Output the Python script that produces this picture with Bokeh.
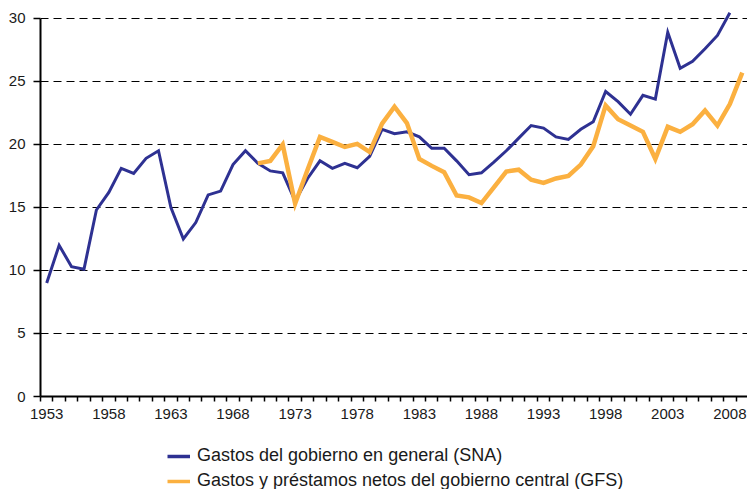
from bokeh.plotting import figure
from bokeh.layouts import column
from bokeh.models import FixedTicker, Legend, LegendItem
from bokeh.embed import file_html
from bokeh.resources import INLINE

# --- data -------------------------------------------------------------
years_sna = list(range(1953, 2009))
sna = [9.0, 12.0, 10.3, 10.1, 14.8, 16.2, 18.1, 17.7, 18.9, 19.5,
       15.0, 12.5, 13.8, 16.0, 16.3, 18.4, 19.5, 18.5, 17.9, 17.75,
       15.5, 17.3, 18.7, 18.1, 18.5, 18.15, 19.05, 21.2, 20.85, 21.0,
       20.6, 19.7, 19.7, 18.7, 17.6, 17.75, 18.6, 19.5, 20.5, 21.5,
       21.3, 20.6, 20.4, 21.2, 21.8, 24.2, 23.4, 22.4, 23.9, 23.6,
       28.9, 26.05, 26.6, 27.6, 28.65, 30.45]

years_gfs = list(range(1970, 2010))
gfs = [18.5, 18.7, 20.0, 15.3, 18.0, 20.6, 20.2, 19.8, 20.05, 19.4,
       21.65, 23.0, 21.7, 18.85, 18.3, 17.8, 15.95, 15.8, 15.35, 16.6,
       17.85, 18.0, 17.2, 16.95, 17.3, 17.5, 18.4, 19.85, 23.1, 22.0,
       21.5, 21.0, 18.85, 21.4, 21.0, 21.6, 22.7, 21.5, 23.2, 25.7]

x_label_years = list(range(1953, 2009, 5))
y_ticks = [0, 5, 10, 15, 20, 25, 30]
label_sna = "Gastos del gobierno en general (SNA)"
label_gfs = "Gastos y préstamos netos del gobierno central (GFS)"

BLUE = "#2e3192"
ORANGE = "#fbb040"
FONT = "Liberation Sans"

# --- main chart -------------------------------------------------------
p = figure(width=747, height=430, output_backend="svg", toolbar_location=None,
           x_range=(1952.5, 2009.42), y_range=(0, 30.63),
           min_border_left=40, min_border_right=0, min_border_top=10,
           min_border_bottom=34)
p.outline_line_color = None
p.background_fill_color = "white"
p.border_fill_color = "white"

r1 = p.line(years_sna, sna, line_color=BLUE, line_width=3, line_join="miter")
r2 = p.line(years_gfs, gfs, line_color=ORANGE, line_width=4.5, line_join="miter")

# x axis
minor = [y - 0.5 for y in range(1953, 2011)]
p.xaxis.ticker = FixedTicker(ticks=x_label_years, minor_ticks=minor)
p.xaxis.major_label_overrides = {y: str(y) for y in x_label_years}
p.xaxis.major_tick_out = 0
p.xaxis.major_tick_in = 0
p.xaxis.minor_tick_out = 5
p.xaxis.minor_tick_in = 0
p.xaxis.minor_tick_line_color = "black"
p.xaxis.minor_tick_line_width = 1.5
p.xaxis.major_label_standoff = 7

# y axis
p.yaxis.ticker = FixedTicker(ticks=y_ticks)
p.yaxis.bounds = (0, 30)
p.yaxis.major_tick_out = 7
p.yaxis.major_tick_in = 0
p.yaxis.major_tick_line_width = 1.5
p.yaxis.minor_tick_line_color = None
p.yaxis.major_label_standoff = 8

for ax in (p.xaxis, p.yaxis):
    ax.axis_line_width = 2
    ax.axis_line_color = "black"
    ax.major_tick_line_color = "black"
    ax.major_label_text_font = FONT
    ax.major_label_text_font_size = "15px"
    ax.major_label_text_color = "#1a1a1a"

p.xgrid.grid_line_color = None
p.ygrid.grid_line_color = "black"
p.ygrid.grid_line_width = 1
p.ygrid.grid_line_dash = "8 5"

# --- legend strip (its frame is aligned with the chart's frame) --------
q = figure(width=747, height=59, output_backend="svg", toolbar_location=None,
           x_axis_type=None, y_axis_type=None, x_range=(0, 1), y_range=(0, 1),
           min_border_left=0, min_border_right=0, min_border_top=0,
           min_border_bottom=0)
q.outline_line_color = None
q.xgrid.grid_line_color = None
q.ygrid.grid_line_color = None
# same series, lying outside this strip's ranges: only their legend glyphs show
l1 = q.line(years_sna, sna, line_color=BLUE, line_width=3.5)
l2 = q.line(years_gfs, gfs, line_color=ORANGE, line_width=3.5)

legend = Legend(items=[LegendItem(label=label_sna, renderers=[l1]),
                       LegendItem(label=label_gfs, renderers=[l2])],
                location=(127, -2), orientation="vertical",
                border_line_color=None, background_fill_alpha=0,
                padding=0, margin=0, spacing=4,
                glyph_width=23, glyph_height=18, label_height=18,
                label_standoff=7, label_text_font=FONT,
                label_text_font_size="18px", label_text_color="#1a1a1a")
q.add_layout(legend, "center")

page = column(p, q, spacing=0)
open("out.html", "w").write(file_html(page, INLINE))
